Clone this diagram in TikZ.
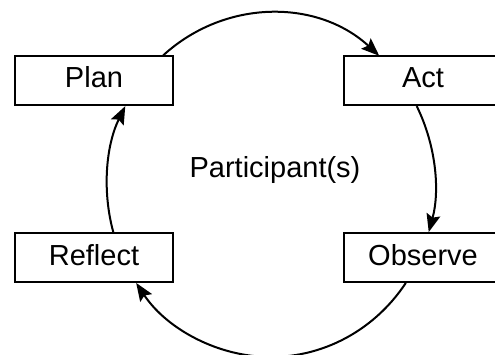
\documentclass[tikz,border=0pt]{standalone}
\usepackage{fontspec}
\setmainfont{Liberation Sans}
\usetikzlibrary{arrows.meta}
\begin{document}
\begin{tikzpicture}[x=1pt,y=1pt,
  stagebox/.style={draw=black, line width=2pt, fill=white,
    minimum width=158pt, minimum height=49pt, inner sep=0pt,
    font=\fontsize{29}{34}\selectfont, text height=21pt, text depth=6pt},
  cyc/.style={line width=2pt, -{Stealth[length=18pt,width=14pt,inset=3pt]}}]
\useasboundingbox (0,0) rectangle (495,354);
\clip (0,0) rectangle (495,354);

% centre of the elliptic cycle
\coordinate (c) at (271,169);

% the four stages
\node[stagebox] (plan)    at (94,273.5)  {Plan};
\node[stagebox] (act)     at (423,273.5) {Act};
\node[stagebox] (reflect) at (94,96.5)   {Reflect};
\node[stagebox] (observe) at (423,96.5)  {Observe};

\node[font=\fontsize{29}{34}\selectfont, anchor=base] (part) at (275,177) {Participant(s)};

% arcs of the cycle, each running from one stage box to the next
\draw[cyc] (c) ++(131.1:164 and 172)
  arc[start angle=131.1, end angle=48.7, x radius=164, y radius=172];
\draw[cyc] (c) ++(27.3:164 and 172)
  arc[start angle=27.3, end angle=-15.9, x radius=164, y radius=172];
\draw[cyc] (c) ++(-34.7:164 and 172)
  arc[start angle=-34.7, end angle=-145.3, x radius=164, y radius=172];
\draw[cyc] (c) ++(195.9:164 and 172)
  arc[start angle=195.9, end angle=152.7, x radius=164, y radius=172];
\end{tikzpicture}
\end{document}
